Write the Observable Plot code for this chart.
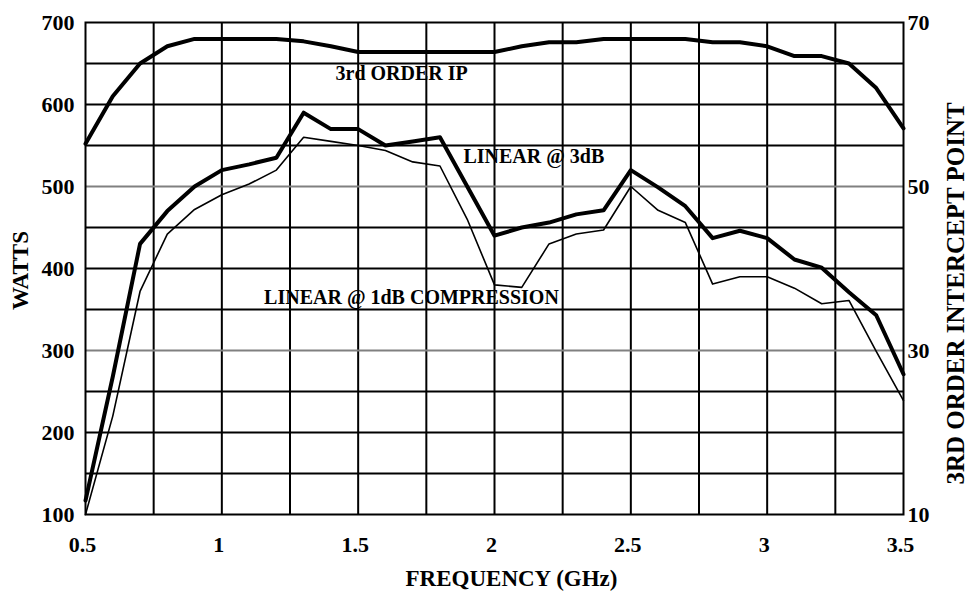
<!DOCTYPE html>
<html>
<head>
<meta charset="utf-8">
<script src="https://cdn.jsdelivr.net/npm/d3@7"></script>
<script src="https://cdn.jsdelivr.net/npm/@observablehq/plot@0.6"></script>
<style>
  html, body { margin: 0; padding: 0; background: #fff; }
  #chart svg { display: block; }
</style>
</head>
<body>
<div id="chart"></div>
<script>
// Frequency (GHz)
const freq = [0.5, 0.6, 0.7, 0.8, 0.9, 1.0, 1.1, 1.2, 1.3, 1.4, 1.5, 1.6, 1.7, 1.8, 1.9, 2.0,
              2.1, 2.2, 2.3, 2.4, 2.5, 2.6, 2.7, 2.8, 2.9, 3.0, 3.1, 3.2, 3.3, 3.4, 3.5];
// LINEAR @ 3dB (watts)
const linear3dB = [117, 268, 430, 470, 500, 520, 527, 535, 590, 570, 570, 550, 555, 560, 500, 440,
                   450, 456, 466, 471, 520, 499, 476, 437, 446, 437, 411, 401, 371, 343, 271];
// LINEAR @ 1dB COMPRESSION (watts)
const linear1dB = [100, 220, 372, 442, 472, 490, 503, 520, 560, 555, 550, 544, 530, 525, 460, 380,
                   377, 430, 442, 447, 500, 471, 456, 381, 390, 390, 376, 357, 361, 299, 239];
// 3rd ORDER IP (right axis units)
const ip3 = [55.2, 61, 65, 67.1, 68, 68, 68, 68, 67.7, 67.1, 66.4, 66.4, 66.4, 66.4, 66.4, 66.4,
             67.1, 67.6, 67.6, 68, 68, 68, 68, 67.6, 67.6, 67.1, 65.9, 65.9, 65, 62, 57.1];

// Axes / grid
const xTicks = [0.5, 1, 1.5, 2, 2.5, 3, 3.5];
const xGrid = [0.75, 1, 1.25, 1.5, 1.75, 2, 2.25, 2.5, 2.75, 3, 3.25];
const wattsTicks = [100, 200, 300, 400, 500, 600, 700];
const wattsGrid = [150, 200, 250, 350, 400, 450, 550, 600, 650];
const wattsGridGray = [300, 500];
const ipTicks = [10, 30, 50, 70];
const ipToWatts = 10; // right axis = left axis / 10

const rows = freq.map((f, i) => ({f, l3: linear3dB[i], l1: linear1dB[i], ip: ip3[i] * ipToWatts}));

const chart = Plot.plot({
  width: 970,
  height: 595,
  marginLeft: 85,
  marginRight: 67,
  marginTop: 22,
  marginBottom: 81,
  style: {
    fontFamily: "'Liberation Serif', 'Times New Roman', serif",
    fontWeight: "bold",
    fontSize: "22px",
    color: "black",
    background: "white"
  },
  x: {domain: [0.5, 3.5]},
  y: {domain: [100, 700]},
  marks: [
    Plot.ruleX(xGrid, {stroke: "black", strokeWidth: 2}),
    Plot.ruleY(wattsGrid, {stroke: "black", strokeWidth: 2}),
    Plot.ruleY(wattsGridGray, {stroke: "#808080", strokeWidth: 2}),
    Plot.frame({stroke: "black", strokeWidth: 2}),
    Plot.line(rows, {x: "f", y: "ip", stroke: "black", strokeWidth: 4}),
    Plot.line(rows, {x: "f", y: "l3", stroke: "black", strokeWidth: 4}),
    Plot.line(rows, {x: "f", y: "l1", stroke: "black", strokeWidth: 1.6}),
    Plot.text(["3rd ORDER IP"], {x: 1.417, y: 630, text: d => d, textAnchor: "start", lineAnchor: "bottom", fontSize: 20}),
    Plot.text(["LINEAR @ 3dB"], {x: 1.886, y: 529, text: d => d, textAnchor: "start", lineAnchor: "bottom", fontSize: 20}),
    Plot.text(["LINEAR @ 1dB COMPRESSION"], {x: 1.155, y: 357, text: d => d, textAnchor: "start", lineAnchor: "bottom", fontSize: 20}),
    Plot.axisX(xTicks, {tickSize: 0, tickPadding: 22, dx: -3, tickFormat: d => String(d), label: null}),
    Plot.axisY(wattsTicks, {anchor: "left", tickSize: 0, tickPadding: 11, label: null}),
    Plot.axisY(ipTicks.map(v => v * ipToWatts), {anchor: "right", tickSize: 0, tickPadding: 4, tickFormat: d => String(d / ipToWatts), label: null}),
    Plot.text(["WATTS"], {frameAnchor: "left", text: d => d, rotate: -90, textAnchor: "middle", lineAnchor: "bottom", dx: -58, dy: 2, fontSize: 23}),
    Plot.text(["3RD ORDER INTERCEPT POINT"], {frameAnchor: "right", text: d => d, rotate: -90, textAnchor: "middle", lineAnchor: "bottom", dx: 60, dy: 25, fontSize: 25}),
    Plot.text(["FREQUENCY (GHz)"], {frameAnchor: "bottom", text: d => d, textAnchor: "middle", lineAnchor: "bottom", dx: 17, dy: 71, fontSize: 23})
  ]
});
document.getElementById("chart").appendChild(chart);
</script>
</body>
</html>
